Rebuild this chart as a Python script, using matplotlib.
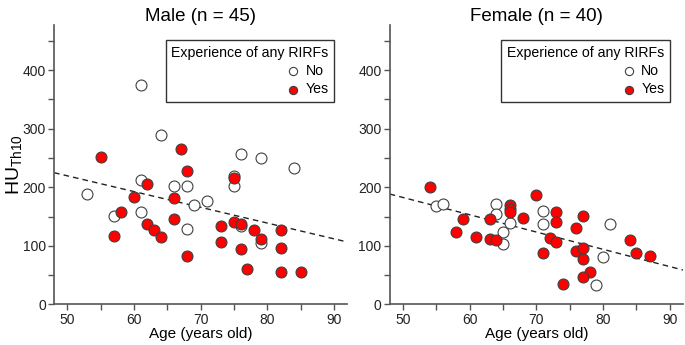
import numpy as np
import matplotlib.pyplot as plt

plt.rcParams['font.family'] = ['Liberation Sans', 'DejaVu Sans']

# ---- data ------------------------------------------------------------------
male_no_age = [61, 64, 61, 66, 68, 76, 79, 84, 75, 75, 53, 61, 57, 68, 69, 71, 76, 79]
male_no_hu = [375, 290, 212, 203, 203, 257, 250, 233, 220, 202, 189, 158, 151, 129, 170, 176, 133, 104]
male_yes_age = [55, 67, 68, 62, 75, 60, 66, 58, 66, 62, 63, 64, 57, 68, 73, 75, 76,
                78, 79, 82, 73, 76, 82, 77, 82, 85]
male_yes_hu = [252, 265, 228, 205, 215, 183, 182, 158, 145, 137, 127, 115, 117, 82, 134, 140, 138,
               127, 112, 127, 107, 95, 97, 61, 56, 56]

female_no_age = [55, 56, 64, 64, 66, 65, 65, 71, 71, 81, 80, 79]
female_no_hu = [168, 171, 171, 155, 139, 124, 103, 160, 138, 138, 80, 33]
female_yes_age = [54, 59, 58, 61, 63, 63, 64, 66, 66, 66, 68, 70, 73, 73, 77, 76, 72, 73,
                  71, 76, 77, 77, 78, 77, 74, 84, 85, 87]
female_yes_hu = [200, 146, 124, 115, 146, 112, 110, 170, 163, 157, 148, 187, 158, 140, 151, 131, 114, 107,
                 87, 91, 96, 77, 56, 46, 35, 110, 88, 83]

# regression lines (intercept, slope)
male_fit = (354.0, -2.69)
female_fit = (330.0, -2.95)

panels = [
    ("Male (n = 45)", male_no_age, male_no_hu, male_yes_age, male_yes_hu, male_fit),
    ("Female (n = 40)", female_no_age, female_no_hu, female_yes_age, female_yes_hu, female_fit),
]

XLIM = (48, 92)
YLIM = (0, 477)
SPINE = "#555555"

fig = plt.figure(figsize=(6.85, 3.45), dpi=100)
axes = [fig.add_axes([0.079, 0.118, 0.428, 0.809]),
        fig.add_axes([0.569, 0.118, 0.428, 0.809])]

for ax, (title, na, nh, ya, yh, fit) in zip(axes, panels):
    ax.scatter(na, nh, s=62, facecolor="white", edgecolor="#404040",
               linewidth=0.8, zorder=3, label="No")
    ax.scatter(ya, yh, s=62, facecolor="#ff0000", edgecolor="#404040",
               linewidth=0.8, zorder=3, label="Yes")

    xs = np.array(XLIM, dtype=float)
    ax.plot(xs, fit[0] + fit[1] * xs, color="#222222", lw=1.0,
            dashes=(4, 3), zorder=2)

    ax.set_xlim(*XLIM)
    ax.set_ylim(*YLIM)
    for s in ("top", "right"):
        ax.spines[s].set_visible(False)
    for s in ("left", "bottom"):
        ax.spines[s].set_color(SPINE)
        ax.spines[s].set_linewidth(1.2)

    ax.set_xticks(np.arange(50, 91, 5))
    ax.set_xticklabels([str(v) if v % 10 == 0 else "" for v in range(50, 91, 5)])
    ax.set_yticks(np.arange(0, 451, 50))
    ax.set_yticklabels([str(v) if v % 100 == 0 else "" for v in range(0, 451, 50)])
    ax.tick_params(direction="out", length=4, width=1.0, color=SPINE,
                   labelsize=10, labelcolor="#222222", pad=2)

    ax.set_title(title, fontsize=13.5, pad=3)
    ax.set_xlabel("Age (years old)", fontsize=11, labelpad=0)

    leg = ax.legend(title="Experience of any RIRFs", loc="upper right",
                    bbox_to_anchor=(0.956, 0.946), fontsize=10.2,
                    title_fontsize=10.2, alignment="right", fancybox=False,
                    framealpha=1, edgecolor="#333333", markerscale=0.75,
                    handletextpad=0.3, labelspacing=0.3, borderpad=0.4,
                    handlelength=1.2, borderaxespad=0)
    leg.get_frame().set_linewidth(1.0)

axes[0].set_ylabel(r"HU$_{\mathregular{Th10}}$", fontsize=14)
axes[0].yaxis.set_label_coords(-0.10, 0.5)

fig.savefig("out.png", dpi=100)
